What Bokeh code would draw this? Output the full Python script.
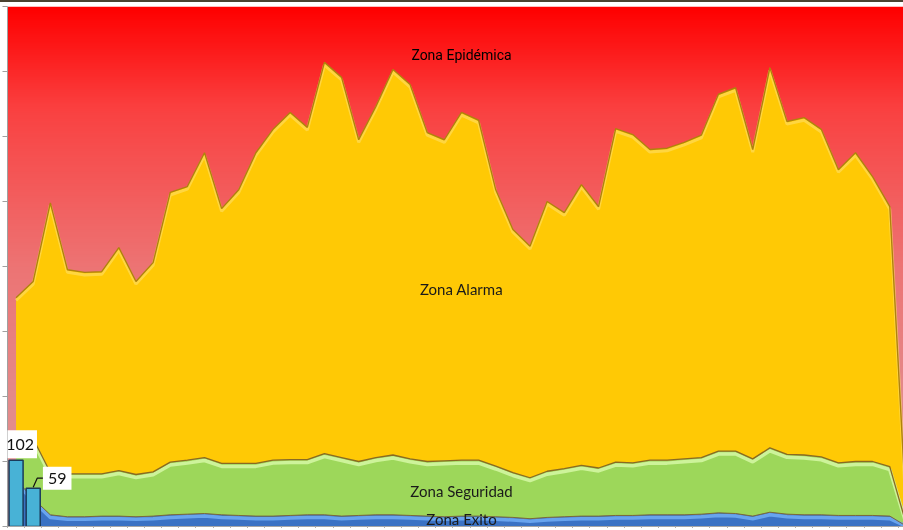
import numpy as np
from bokeh.plotting import figure
from bokeh.models import Range1d, FixedTicker, Label, CustomJSTickFormatter
from bokeh.core.properties import value
from bokeh.embed import file_html
from bokeh.resources import INLINE

# ---- data -------------------------------------------------------------
weeks = list(range(1, 54))
case_weeks = [1, 2]
cases = [102, 59]

# upper limit of "Zona Exito" (Q1)
exito = [72, 43, 18, 15, 15, 16, 16, 15, 16, 18,
         19, 20, 18, 17, 16, 16, 17, 18, 18, 16,
         17, 18, 18, 17, 16, 15, 16, 16, 15, 14,
         12, 14, 15, 16, 16, 17, 17, 18, 18, 18,
         19, 21, 20, 16, 22, 19, 18, 18, 17, 17,
         17, 16, 0]
# upper limit of "Zona Seguridad" (median)
seguridad = [135, 135, 83, 81, 81, 81, 86, 80, 84, 99,
             102, 106, 97, 97, 97, 102, 103, 103, 112, 106,
             100, 106, 110, 104, 100, 101, 102, 102, 93, 83,
             75, 85, 89, 94, 90, 99, 98, 102, 102, 104,
             106, 116, 116, 104, 121, 111, 110, 107, 98, 100,
             100, 92, 0]
# upper limit of "Zona Alarma" (Q3)
alarma = [352, 377, 498, 395, 391, 392, 429, 377, 406, 514,
          523, 575, 489, 518, 575, 611, 637, 614, 714, 691,
          595, 646, 703, 680, 606, 595, 637, 625, 518, 457,
          431, 500, 483, 526, 492, 612, 603, 580, 582, 591,
          602, 665, 675, 580, 706, 623, 629, 611, 549, 575,
          538, 492, 0]

y_ticks = [0, 100, 200, 300, 400, 500, 600, 700, 800]
zone_names = ["Zona Epidémica", "Zona Alarma", "Zona Seguridad", "Zona Exito"]

# ---- figure -----------------------------------------------------------
p = figure(width=903, height=528, x_range=Range1d(0.5, 52.8), y_range=Range1d(0, 800),
           output_backend="svg", toolbar_location=None,
           min_border_left=7, min_border_right=0, min_border_top=4, min_border_bottom=0)
p.styles = {"position": "fixed", "left": "0px", "top": "0px",
            "border-top": "2px solid #4b4232"}
p.xgrid.visible = False
p.ygrid.visible = False
p.outline_line_color = None
p.border_fill_color = "white"

# red gradient background (epidemic zone)
N = 256
frac_top = 1 - np.linspace(0, 1, N)  # row 0 = bottom
stops = [0.0, 0.2, 0.5, 0.75, 1.0]
R = np.interp(frac_top, stops, [255, 250, 237, 228, 224])
G = np.interp(frac_top, stops, [0, 66, 116, 138, 148])
B = np.interp(frac_top, stops, [0, 66, 116, 138, 148])
img = np.empty((N, 1), dtype=np.uint32)
view = img.view(dtype=np.uint8).reshape((N, 1, 4))
view[:, 0, 0] = R.astype(np.uint8)
view[:, 0, 1] = G.astype(np.uint8)
view[:, 0, 2] = B.astype(np.uint8)
view[:, 0, 3] = 255
p.image_rgba(image=[img], x=0.5, y=0, dw=53, dh=800)

ex = np.array(exito, dtype=float)
se = np.array(seguridad, dtype=float)
al = np.array(alarma, dtype=float)

# stacked zones
p.varea(x=weeks, y1=se, y2=al, fill_color="#ffc905")
p.line(weeks, np.maximum(al - 4, se), line_color="#ffe067", line_width=3, line_alpha=0.6)
p.line(weeks, al, line_color="#b0820c", line_width=1.4)

p.varea(x=weeks, y1=ex, y2=se, fill_color="#9dd75a")
p.line(weeks, np.maximum(se - 4.5, ex), line_color="#cdf39a", line_width=3.5)
p.line(weeks, se, line_color="#8a6a22", line_width=1.3)

p.varea(x=weeks, y1=0, y2=ex, fill_color="#3a72c4")
p.line(weeks, np.maximum(ex - 4, 0), line_color="#68a4ee", line_width=3.5)
p.line(weeks, ex, line_color="#7a6a3a", line_width=1)

# observed cases
p.vbar(x=case_weeks, top=cases, width=0.82, fill_color="#48b2d6",
       line_color="#1b3a5a", line_width=1.5)

# leader line of the second data label
px_x = 1 / 17.13
px_y = 1 / 0.65
p.line(x=[case_weeks[1], case_weeks[1] + 4 * px_x, case_weeks[1] + 12 * px_x],
       y=[cases[1] + 1 * px_y, cases[1] + 10 * px_y, cases[1] + 10 * px_y],
       line_color="#111111", line_width=1.2)

# zone names
zx = [27, 27, 27, 27]
zy = [725, 365, 54, 11]
p.text(x=zx[:1], y=zy[:1], text=zone_names[:1], text_align="center", text_baseline="middle",
       text_font=value("Roboto"), text_font_size="14px", text_color="#000000")
p.text(x=zx[1:], y=zy[1:], text=zone_names[1:], text_align="center", text_baseline="middle",
       text_font=value("Lato"), text_font_size="15px", text_color="#1a1a1a")

# data labels
p.add_layout(Label(x=case_weeks[0], y=cases[0], text=str(cases[0]), text_align="center",
                   text_baseline="bottom", x_offset=4, y_offset=2, text_font="Lato",
                   text_font_size="16px", text_color="#111111", background_fill_color="white",
                   padding=dict(left=3, right=3, top=9, bottom=8), level="overlay"))
p.add_layout(Label(x=case_weeks[1], y=cases[1], text=str(cases[1]), text_align="center",
                   text_baseline="middle", x_offset=24, y_offset=10, text_font="Lato",
                   text_font_size="16px", text_color="#111111", background_fill_color="white",
                   padding=dict(left=5, right=5, top=6, bottom=6), level="overlay"))

# axes
empty = CustomJSTickFormatter(code="return ''")
p.xaxis.ticker = FixedTicker(ticks=[w - 0.5 for w in weeks])
p.xaxis.formatter = empty
p.xaxis.major_label_standoff = 0
p.xaxis.major_tick_out = 4
p.xaxis.major_tick_in = 0
p.xaxis.minor_tick_line_color = None
p.xaxis.axis_line_color = "#a6a6a6"
p.xaxis.major_tick_line_color = "#b0b0b0"

p.yaxis.ticker = FixedTicker(ticks=y_ticks)
p.yaxis.formatter = empty
p.yaxis.major_label_standoff = 0
p.yaxis.major_tick_out = 5
p.yaxis.major_tick_in = 0
p.yaxis.minor_tick_line_color = None
p.yaxis.axis_line_color = "#a0a0a0"
p.yaxis.major_tick_line_color = "#a0a0a0"

open("out.html", "w").write(file_html(p, INLINE))
